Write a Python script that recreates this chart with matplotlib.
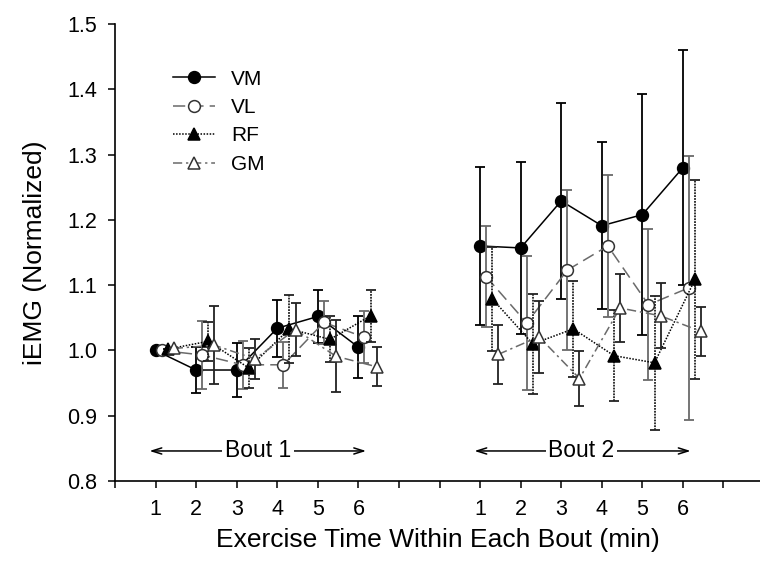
import numpy as np
import matplotlib
matplotlib.use("Agg")
import matplotlib.pyplot as plt

plt.rcParams['font.family'] = ['Liberation Sans', 'DejaVu Sans']

# minutes within each bout, bout 2 is shifted right on the shared axis
minutes = [1, 2, 3, 4, 5, 6]
bout_start = [0, 8]
labels = ['VM', 'VL', 'RF', 'GM']

# normalized iEMG, mean and error per bout
vm_b1 = [1.000, 0.970, 0.970, 1.034, 1.052, 1.005]
vm_b1_err = [0.0, 0.035, 0.042, 0.044, 0.040, 0.047]
vm_b2 = [1.160, 1.157, 1.229, 1.191, 1.208, 1.280]
vm_b2_err = [0.121, 0.132, 0.150, 0.128, 0.185, 0.180]

vl_b1 = [1.000, 0.993, 0.978, 0.978, 1.043, 1.020]
vl_b1_err = [0.0, 0.052, 0.037, 0.035, 0.033, 0.040]
vl_b2 = [1.113, 1.042, 1.123, 1.160, 1.070, 1.096]
vl_b2_err = [0.077, 0.102, 0.122, 0.109, 0.116, 0.202]

rf_b1 = [1.002, 1.014, 0.973, 1.033, 1.017, 1.053]
rf_b1_err = [0.0, 0.030, 0.030, 0.052, 0.035, 0.040]
rf_b2 = [1.079, 1.010, 1.033, 0.992, 0.981, 1.109]
rf_b2_err = [0.080, 0.076, 0.073, 0.070, 0.103, 0.152]

gm_b1 = [1.003, 1.008, 0.987, 1.032, 0.991, 0.975]
gm_b1_err = [0.0, 0.060, 0.030, 0.040, 0.055, 0.030]
gm_b2 = [0.994, 1.021, 0.957, 1.065, 1.053, 1.029]
gm_b2_err = [0.045, 0.055, 0.042, 0.052, 0.050, 0.037]

gray = '#6a6a6a'
styles = {
    'VM': dict(offset=0.0, color='black', ls='-', marker='o', mfc='black',
               mec='black', ms=8.5, ecolor='black', els='-'),
    'VL': dict(offset=0.15, color=gray, ls=(0, (8, 4)), marker='o', mfc='white',
               mec='#333333', ms=8.5, ecolor=gray, els='-'),
    'RF': dict(offset=0.30, color='black', ls=(0, (1, 1)), marker='^', mfc='black',
               mec='black', ms=8.5, ecolor='#222222', els=(0, (1, 0.6))),
    'GM': dict(offset=0.45, color=gray, ls=(0, (6, 2.5, 1.5, 2.5)), marker='^',
               mfc='white', mec='#333333', ms=8.5, ecolor='#222222', els='-'),
}
series = {
    'VM': [(vm_b1, vm_b1_err), (vm_b2, vm_b2_err)],
    'VL': [(vl_b1, vl_b1_err), (vl_b2, vl_b2_err)],
    'RF': [(rf_b1, rf_b1_err), (rf_b2, rf_b2_err)],
    'GM': [(gm_b1, gm_b1_err), (gm_b2, gm_b2_err)],
}

fig = plt.figure(figsize=(7.6, 5.66), dpi=100)
ax = fig.add_axes([115 / 760, 1 - 481 / 566, 645 / 760, 457 / 566])

handles = []
for z, name in enumerate(labels):
    st = series[name]
    s = styles[name]
    for b, (vals, errs) in enumerate(st):
        x = np.array(minutes) + bout_start[b] + s['offset']
        eb = ax.errorbar(x, vals, yerr=errs, fmt='none', ecolor=s['ecolor'],
                         elinewidth=1.3, capsize=3.6, capthick=1.3, zorder=2 + z)
        for lc in eb[2]:
            lc.set_linestyle(s['els'])
        ln, = ax.plot(x, vals, color=s['color'], ls=s['ls'], lw=1.1,
                      marker=s['marker'], mfc=s['mfc'], mec=s['mec'],
                      ms=s['ms'], mew=1.1, zorder=3 + z, label=name)
        if b == 0:
            handles.append(ln)

# bout annotations with double arrows
bout_text = ['Bout 1', 'Bout 2']
arrow_span = [(0.85, 6.19), (8.86, 14.19)]
text_x = [3.53, 11.5]
for txt, (x0, x1), tx in zip(bout_text, arrow_span, text_x):
    ax.annotate('', xy=(x0, 0.846), xytext=(x1, 0.846),
                arrowprops=dict(arrowstyle='<->,head_length=0.7,head_width=0.22',
                                lw=1.1, color='black', shrinkA=0, shrinkB=0))
    ax.text(tx, 0.846, txt, ha='center', va='center', fontsize=16.5,
            bbox=dict(facecolor='white', edgecolor='none', pad=2))

ax.set_xlim(0, 15.9)
ax.set_ylim(0.8, 1.5)
xt = np.arange(0, 16)
xt_labels = [''] * len(xt)
for b in bout_start:
    for m in minutes:
        xt_labels[b + m] = str(m)
ax.set_xticks(xt)
ax.set_xticklabels(xt_labels)
ax.set_yticks(np.arange(0.8, 1.51, 0.1))
ax.set_yticklabels(['%.1f' % v for v in np.arange(0.8, 1.51, 0.1)])
ax.tick_params(axis='both', direction='out', length=5, width=1.1,
               labelsize=15.5, pad=8)

for side in ['top', 'right']:
    ax.spines[side].set_visible(False)
for side in ['left', 'bottom']:
    ax.spines[side].set_linewidth(1.2)

ax.set_xlabel('Exercise Time Within Each Bout (min)', fontsize=19, labelpad=6)
ax.set_ylabel('iEMG (Normalized)', fontsize=19, labelpad=14)

ax.legend(handles=handles, loc='upper left', bbox_to_anchor=(0.09, 0.90),
          frameon=False, fontsize=15, handlelength=2.0, handletextpad=0.8,
          labelspacing=0.45, borderpad=0, borderaxespad=0)

fig.savefig('out.png', dpi=100)
